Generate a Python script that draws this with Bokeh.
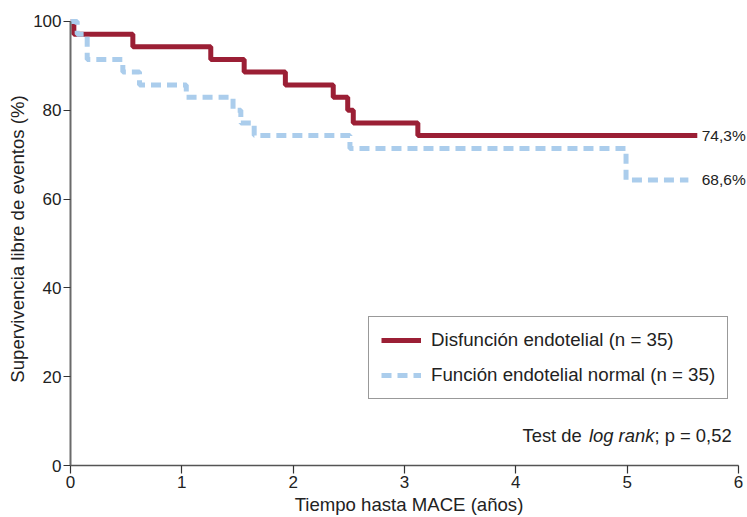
from bokeh.plotting import figure
from bokeh.models import Range1d, Legend, LegendItem, FixedTicker
from bokeh.core.properties import value
from bokeh.embed import file_html
from bokeh.resources import INLINE

# Kaplan-Meier data
red_t = [0, 0.03, 0.56, 1.26, 1.56, 1.93, 2.36, 2.49, 2.54, 3.12, 5.63]
red_s = [100, 97.1, 94.3, 91.4, 88.6, 85.7, 82.9, 80.0, 77.1, 74.3, 74.3]
blue_t = [0, 0.06, 0.15, 0.47, 0.62, 1.04, 1.46, 1.53, 1.65, 2.51, 4.99, 5.55]
blue_s = [100, 97.1, 91.4, 88.6, 85.7, 82.9, 80.0, 77.1, 74.3, 71.4, 64.3, 64.3]
red_label = "Disfunción endotelial (n = 35)"
blue_label = "Función endotelial normal (n = 35)"
end_labels = ["74,3%", "68,6%"]
x_ticks = [0, 1, 2, 3, 4, 5, 6]
y_ticks = [0, 20, 40, 60, 80, 100]

FONT = "Liberation Sans"
TXT = "#222222"
RED = "#9b1f35"
BLUE = "#abcdec"

p = figure(width=747, height=517, output_backend="svg", toolbar_location=None,
           x_range=Range1d(0, 6.081), y_range=Range1d(0, 102),
           min_border_left=70, min_border_right=0, min_border_top=12, min_border_bottom=52)
p.outline_line_color = None
p.grid.visible = False
p.background_fill_color = "white"

r1 = p.step(red_t, red_s, mode="after", line_color=RED, line_width=5, line_cap="butt")
r2 = p.step(blue_t, blue_s, mode="after", line_color=BLUE, line_width=5,
            line_dash="10 6", line_cap="butt")

# end labels
p.text(x=[5.67, 5.67], y=[red_s[-1], 64.3], text=end_labels,
       text_font=value(FONT), text_font_size="15.5px", text_color=TXT,
       text_baseline="middle", text_align="left")

# log rank annotation
p.text(x=[4.06], y=[6.8], text=["Test de "], text_font=value(FONT),
       text_font_size="18.4px", text_color=TXT, text_baseline="alphabetic")
p.text(x=[4.657], y=[6.8], text=["log rank"], text_font=value(FONT),
       text_font_style="italic", text_font_size="18.4px", text_color=TXT,
       text_baseline="alphabetic")
p.text(x=[5.245], y=[6.8], text=["; p = 0,52"], text_font=value(FONT),
       text_font_size="18.4px", text_color=TXT, text_baseline="alphabetic")

for ax in (p.xaxis[0], p.yaxis[0]):
    ax.axis_line_color = "#555555"
    ax.axis_line_width = 1.5
    ax.major_tick_line_color = "#333333"
    ax.major_tick_line_width = 1.2
    ax.minor_tick_line_color = None
    ax.major_tick_in = 0
    ax.major_label_text_font = FONT
    ax.major_label_text_font_size = "17px"
    ax.major_label_text_color = TXT
    ax.axis_label_text_font = FONT
    ax.axis_label_text_font_size = "18.6px"
    ax.axis_label_text_font_style = "normal"
    ax.axis_label_text_color = TXT

p.xaxis.ticker = FixedTicker(ticks=x_ticks)
p.yaxis.ticker = FixedTicker(ticks=y_ticks)
p.xaxis.bounds = (0, 6)
p.yaxis.bounds = (0, 100)
p.xaxis.major_tick_out = 8
p.yaxis.major_tick_out = 7
p.xaxis.major_label_standoff = 2
p.yaxis.major_label_standoff = 2
p.xaxis.axis_label_standoff = 3
p.yaxis.axis_label_standoff = 2
p.xaxis.axis_label = "Tiempo hasta MACE (años)"
p.yaxis.axis_label = "Supervivencia libre de eventos (%)"
p.yaxis.axis_line_color = "#6a6a6a"
p.yaxis.axis_line_width = 2

legend = Legend(items=[LegendItem(label=red_label, renderers=[r1]),
                       LegendItem(label=blue_label, renderers=[r2])],
                location=(298, 66), orientation="vertical",
                padding=12, spacing=13, margin=0,
                glyph_width=40, glyph_height=20, label_height=20, label_standoff=10,
                label_text_font=FONT, label_text_font_size="18.7px", label_text_color=TXT,
                border_line_color="#333333", border_line_width=1,
                background_fill_color="white", background_fill_alpha=1)
p.add_layout(legend, "center")

open("out.html", "w").write(file_html(p, INLINE))
